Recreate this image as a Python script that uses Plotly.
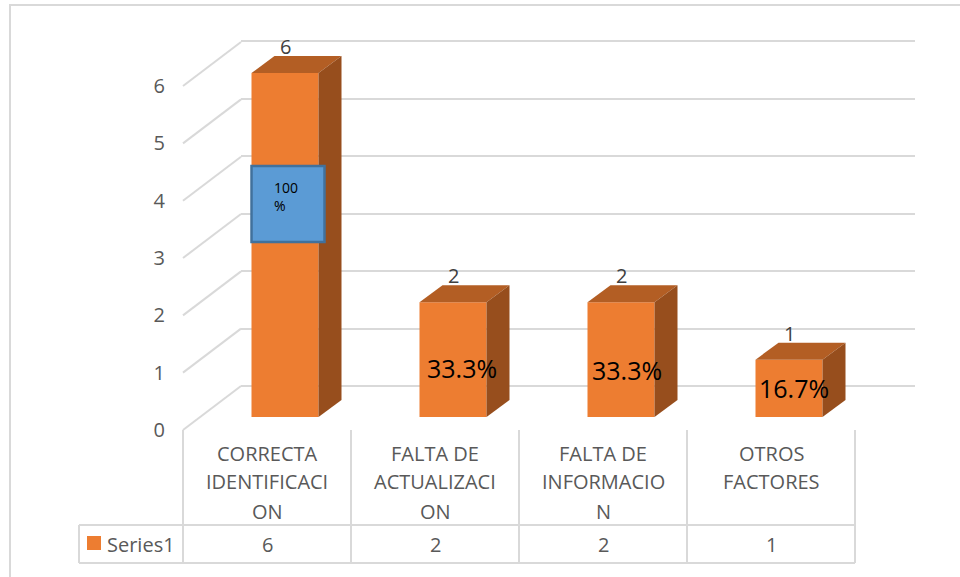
import plotly.graph_objects as go

# ---------------- data ----------------
categories = ["CORRECTA<br>IDENTIFICACI<br>ON",
              "FALTA DE<br>ACTUALIZACI<br>ON",
              "FALTA DE<br>INFORMACIO<br>N",
              "OTROS<br>FACTORES"]
values = [6, 2, 2, 1]
pct_labels = ["100<br>%", "33.3%", "33.3%", "16.7%"]
series_name = "Series1"
y_ticks = [0, 1, 2, 3, 4, 5, 6]

# ---------------- layout geometry (pixels) ----------------
W, H = 960, 577
X0 = 183            # left edge of first category cell (front plane)
CELL = 168          # pixels per category
Y0 = 430            # front-plane zero line
UNIT = 57.33        # pixels per value unit
BAR_OFF = (18, 13)  # bar plane offset from front plane (right, up)
DEPTH = (23, 17)    # bar depth (right, up)
BACK = (58, 44)     # back wall offset (right, up)
BAR_W = 67
FRONT_LEFT = 166    # front subplot left edge

ORANGE = "#ED7D31"
TOP = "#B35E24"
SIDE = "#974E1D"
GRID = "#D9D9D9"
TXT = "#595959"
FONT = "Open Sans"


def PX(x):
    return x / W


def PY(y):
    return 1 - y / H


# front axes ranges (x2/y2)
xr = [-0.5 - (X0 - FRONT_LEFT) / CELL, -0.5 + (W - X0) / CELL]
yr = [(Y0 - H) / UNIT, Y0 / UNIT]
# bar-plane ranges (x3/y3)
x3r = [xr[0] - BAR_OFF[0] / CELL, xr[1] - BAR_OFF[0] / CELL]
y3r = [yr[0] - BAR_OFF[1] / UNIT, yr[1] - BAR_OFF[1] / UNIT]

fig = go.Figure()

# back wall subplot (x/y) -> native gridlines, drawn first
fig.add_trace(go.Scatter(x=[None], y=[None], xaxis="x", yaxis="y",
                         showlegend=False, hoverinfo="skip"))
# front plane subplot (x2/y2) -> y tick labels
fig.add_trace(go.Scatter(x=[None], y=[None], xaxis="x2", yaxis="y2",
                         showlegend=False, hoverinfo="skip"))
# bars on bar plane (x3/y3 overlaying front)
xs = list(range(len(values)))
fig.add_trace(go.Bar(x=xs, y=values, width=BAR_W / CELL, marker_color=ORANGE,
                     marker_line_width=0, xaxis="x3", yaxis="y3",
                     showlegend=False, hoverinfo="skip"))

shapes = []
annotations = []

# slanted side-wall lines (front axes)
for k in y_ticks:
    shapes.append(dict(type="line", xref="x2", yref="y2",
                       x0=-0.5, y0=k, x1=-0.5 + BACK[0] / CELL, y1=k + BACK[1] / UNIT,
                       line=dict(color=GRID, width=2), layer="below"))

# 3D faces of bars
hw = BAR_W / CELL / 2
ddx = DEPTH[0] / CELL
ddy = DEPTH[1] / UNIT
for i, v in zip(xs, values):
    top = (f"M {i-hw},{v} L {i-hw+ddx},{v+ddy} L {i+hw+ddx},{v+ddy} "
           f"L {i+hw},{v} Z")
    side = (f"M {i+hw},0 L {i+hw},{v} L {i+hw+ddx},{v+ddy} "
            f"L {i+hw+ddx},{ddy} Z")
    shapes.append(dict(type="path", xref="x3", yref="y3", path=top,
                       fillcolor=TOP, line=dict(width=0), layer="above"))
    shapes.append(dict(type="path", xref="x3", yref="y3", path=side,
                       fillcolor=SIDE, line=dict(width=0), layer="above"))
    # value label above bar
    annotations.append(dict(xref="x3", yref="y3", x=i, y=v + ddy + 9.5 / UNIT,
                            text=str(v), showarrow=False, yanchor="middle",
                            font=dict(family=FONT, size=20, color="#404040")))

# percentage labels (positions in bar plane: x shift px, y value)
pct_pos = [(-13, 3.84), (9, 0.855), (6, 0.82), (4.5, 0.506)]
for i, (lab, (dxp, yv)) in enumerate(zip(pct_labels, pct_pos)):
    if i == 0:
        shapes.append(dict(type="rect", xref="x3", yref="y3",
                           x0=i - hw, x1=i - hw + 73 / CELL,
                           y0=(Y0 - BAR_OFF[1] - 242) / UNIT,
                           y1=(Y0 - BAR_OFF[1] - 166) / UNIT,
                           fillcolor="#5B9BD5", line=dict(color="#41719C", width=2.5),
                           layer="above"))
        annotations.append(dict(xref="x3", yref="y3", x=i + dxp / CELL, y=yv,
                                text=lab, showarrow=False, xanchor="left",
                                yanchor="middle", align="left",
                                font=dict(family=FONT, size=14, color="#000000")))
    else:
        annotations.append(dict(xref="x3", yref="y3", x=i + dxp / CELL, y=yv,
                                text=lab, showarrow=False, xanchor="center",
                                yanchor="middle",
                                font=dict(family=FONT, size=25, color="#000000")))

# ---------------- data table ----------------
LEG_L = 79
ROW_TOP = 525
ROW_BOT = 563
x_last = len(values) - 0.5
for j in range(len(values) + 1):
    shapes.append(dict(type="line", xref="x2", yref="paper",
                       x0=j - 0.5, x1=j - 0.5, y0=PY(430), y1=PY(ROW_BOT),
                       line=dict(color=GRID, width=2), layer="below"))
for yy in (ROW_TOP, ROW_BOT):
    shapes.append(dict(type="line", xref="paper", yref="paper",
                       x0=PX(LEG_L), x1=PX(X0), y0=PY(yy), y1=PY(yy),
                       line=dict(color=GRID, width=2)))
    shapes.append(dict(type="line", xref="x2", yref="paper",
                       x0=-0.5, x1=x_last, y0=PY(yy), y1=PY(yy),
                       line=dict(color=GRID, width=2), layer="below"))
shapes.append(dict(type="line", xref="paper", yref="paper",
                   x0=PX(LEG_L), x1=PX(LEG_L), y0=PY(ROW_TOP), y1=PY(ROW_BOT),
                   line=dict(color=GRID, width=2)))
# legend key
shapes.append(dict(type="rect", xref="paper", yref="paper",
                   x0=PX(87), x1=PX(101), y0=PY(550), y1=PY(536),
                   fillcolor=ORANGE, line=dict(width=0)))
annotations.append(dict(xref="paper", yref="paper", x=PX(105), y=PY(544),
                        text=series_name, showarrow=False, xanchor="left",
                        yanchor="middle", font=dict(family=FONT, size=20, color=TXT)))
ROW_MID = (ROW_TOP + ROW_BOT) / 2
for i, (cat, v) in enumerate(zip(categories, values)):
    for li, line in enumerate(cat.split("<br>")):
        annotations.append(dict(xref="x2", yref="paper", x=i, y=PY(453 + 29 * li),
                                text=line, showarrow=False, xanchor="center",
                                yanchor="middle",
                                font=dict(family=FONT, size=20, color=TXT)))
    annotations.append(dict(xref="x2", yref="paper", x=i, y=PY(ROW_MID + 0.5),
                            text=str(v), showarrow=False, xanchor="center",
                            yanchor="middle",
                            font=dict(family=FONT, size=20, color=TXT)))

# outer chart border
shapes.append(dict(type="rect", xref="paper", yref="paper",
                   x0=PX(10), x1=PX(975), y0=PY(600), y1=PY(5),
                   line=dict(color=GRID, width=2), fillcolor="rgba(0,0,0,0)"))

fig.update_layout(
    width=W, height=H,
    margin=dict(l=0, r=0, t=0, b=0),
    paper_bgcolor="white", plot_bgcolor="rgba(0,0,0,0)",
    showlegend=False,
    shapes=shapes, annotations=annotations,
    # back wall
    xaxis=dict(domain=[PX(X0 + BACK[0]), PX(915)], range=[0, 1], visible=False,
               anchor="y", fixedrange=True),
    yaxis=dict(domain=[PY(Y0 - BACK[1] + 3), PY(Y0 - BACK[1] - 6 * 57.5 - 3)],
               range=[-3 / 57.5, 6 + 3 / 57.5], tickvals=y_ticks,
               showgrid=True, gridcolor=GRID, gridwidth=2, zeroline=False,
               showticklabels=False, ticks="", showline=False, anchor="x",
               fixedrange=True),
    # front plane
    xaxis2=dict(domain=[PX(FRONT_LEFT), 1], range=xr, visible=False,
                anchor="y2", fixedrange=True),
    yaxis2=dict(domain=[0, 1], range=yr, tickvals=y_ticks, showgrid=False,
                zeroline=False, showline=False, ticks="", anchor="x2",
                tickfont=dict(family=FONT, size=20, color=TXT), fixedrange=True),
    # bar plane
    xaxis3=dict(overlaying="x2", domain=[PX(FRONT_LEFT), 1], range=x3r,
                visible=False, anchor="y3", fixedrange=True),
    yaxis3=dict(overlaying="y2", domain=[0, 1], range=y3r, visible=False,
                anchor="x3", fixedrange=True),
)

fig.write_html("out.html", config={"displayModeBar": False},
               post_script="document.body.style.margin='0';"
                           "document.body.style.overflow='hidden';")
